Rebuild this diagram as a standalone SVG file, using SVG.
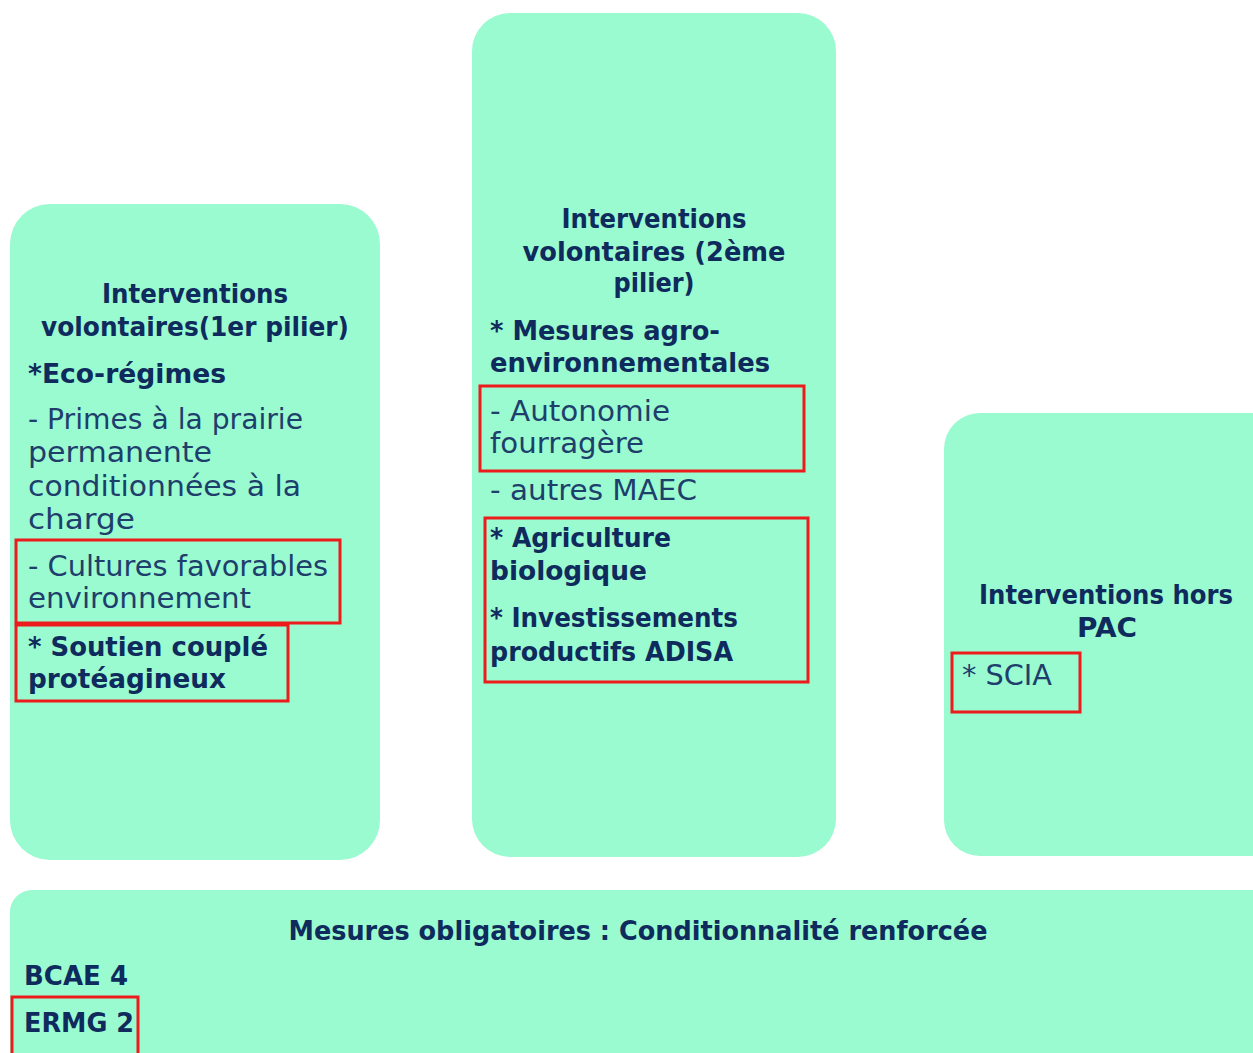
<svg xmlns="http://www.w3.org/2000/svg" width="1253" height="1053" viewBox="0 0 1253 1053">
<style>
.box{fill:#9afad0}
.hl{fill:none;stroke:#ec1c1c;stroke-width:3}
text{font-family:"DejaVu Sans","Liberation Sans",sans-serif}
.b{font-weight:bold;font-size:26px;fill:#0f2a5c}
.r{font-size:28px;fill:#1e3e6c}
.c{text-anchor:middle}
</style>
<rect width="1253" height="1053" fill="#ffffff"/>
<g id="pilier1">
<rect class="box" x="10" y="204" width="370" height="656" rx="40"/>
<text class="b c" x="195" y="303" textLength="186" lengthAdjust="spacingAndGlyphs">Interventions</text>
<text class="b c" x="195" y="336" textLength="308" lengthAdjust="spacingAndGlyphs">volontaires(1er pilier)</text>
<text class="b" x="28" y="383" textLength="198" lengthAdjust="spacingAndGlyphs">*Eco-régimes</text>
<text class="r" x="28" y="429" textLength="275" lengthAdjust="spacingAndGlyphs">- Primes à la prairie</text>
<text class="r" x="28" y="462" textLength="184" lengthAdjust="spacingAndGlyphs">permanente</text>
<text class="r" x="28" y="496" textLength="273" lengthAdjust="spacingAndGlyphs">conditionnées à la</text>
<text class="r" x="28" y="529" textLength="107" lengthAdjust="spacingAndGlyphs">charge</text>
<rect class="hl" x="16" y="540" width="324" height="83"/>
<text class="r" x="28" y="576" textLength="300" lengthAdjust="spacingAndGlyphs">- Cultures favorables</text>
<text class="r" x="28" y="608" textLength="223" lengthAdjust="spacingAndGlyphs">environnement</text>
<rect class="hl" x="16" y="625" width="272" height="76"/>
<text class="b" x="28" y="656" textLength="240" lengthAdjust="spacingAndGlyphs">* Soutien couplé</text>
<text class="b" x="28" y="688" textLength="198" lengthAdjust="spacingAndGlyphs">protéagineux</text>
</g>
<g id="pilier2">
<rect class="box" x="472" y="13" width="364" height="844" rx="38"/>
<text class="b c" x="654" y="228" textLength="185" lengthAdjust="spacingAndGlyphs">Interventions</text>
<text class="b c" x="654" y="261" textLength="263" lengthAdjust="spacingAndGlyphs">volontaires (2ème</text>
<text class="b c" x="654" y="292" textLength="81" lengthAdjust="spacingAndGlyphs">pilier)</text>
<text class="b" x="490" y="340" textLength="230" lengthAdjust="spacingAndGlyphs">* Mesures agro-</text>
<text class="b" x="490" y="372" textLength="280" lengthAdjust="spacingAndGlyphs">environnementales</text>
<rect class="hl" x="480" y="386" width="324" height="85"/>
<text class="r" x="490" y="421" textLength="180" lengthAdjust="spacingAndGlyphs">- Autonomie</text>
<text class="r" x="490" y="453" textLength="154" lengthAdjust="spacingAndGlyphs">fourragère</text>
<text class="r" x="490" y="500" textLength="207" lengthAdjust="spacingAndGlyphs">- autres MAEC</text>
<rect class="hl" x="485" y="518" width="323" height="164"/>
<text class="b" x="490" y="547" textLength="181" lengthAdjust="spacingAndGlyphs">* Agriculture</text>
<text class="b" x="490" y="580" textLength="157" lengthAdjust="spacingAndGlyphs">biologique</text>
<text class="b" x="490" y="627" textLength="248" lengthAdjust="spacingAndGlyphs">* Investissements</text>
<text class="b" x="490" y="661" textLength="243" lengthAdjust="spacingAndGlyphs">productifs ADISA</text>
</g>
<g id="horsPAC">
<rect class="box" x="944" y="413" width="360" height="443" rx="36"/>
<text class="b c" x="1106" y="604" textLength="254" lengthAdjust="spacingAndGlyphs">Interventions hors</text>
<text class="b c" x="1107" y="637" textLength="60" lengthAdjust="spacingAndGlyphs">PAC</text>
<rect class="hl" x="952" y="653" width="128" height="59"/>
<text class="r" x="962" y="685" textLength="90" lengthAdjust="spacingAndGlyphs">* SCIA</text>
</g>
<g id="obligatoires">
<rect class="box" x="10" y="890" width="1300" height="220" rx="22"/>
<text class="b c" x="638" y="940" textLength="699" lengthAdjust="spacingAndGlyphs">Mesures obligatoires : Conditionnalité renforcée</text>
<text class="b" x="24" y="985" textLength="104" lengthAdjust="spacingAndGlyphs">BCAE 4</text>
<rect class="hl" x="12" y="997" width="126" height="70"/>
<text class="b" x="24" y="1032" textLength="110" lengthAdjust="spacingAndGlyphs">ERMG 2</text>
</g>
<g id="connectors"/>
</svg>
